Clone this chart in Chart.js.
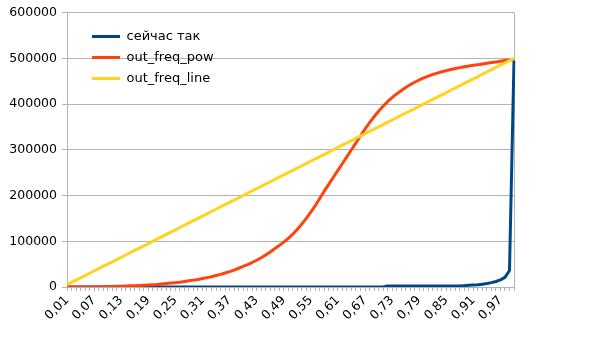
<!DOCTYPE html>
<html>
<head>
<meta charset="utf-8">
<script src="https://cdn.jsdelivr.net/npm/chart.js@4"></script>
<style>
  html, body { margin: 0; padding: 0; background: #ffffff; }
  .chart-box { width: 604px; height: 340px; }
</style>
</head>
<body>
<div class="chart-box">
  <canvas id="freq-chart" width="604" height="340"></canvas>
</div>
<script>
// Data
const categories = [
  "0,01", "0,02", "0,03", "0,04", "0,05", "0,06", "0,07", "0,08", "0,09", "0,10",
  "0,11", "0,12", "0,13", "0,14", "0,15", "0,16", "0,17", "0,18", "0,19", "0,20",
  "0,21", "0,22", "0,23", "0,24", "0,25", "0,26", "0,27", "0,28", "0,29", "0,30",
  "0,31", "0,32", "0,33", "0,34", "0,35", "0,36", "0,37", "0,38", "0,39", "0,40",
  "0,41", "0,42", "0,43", "0,44", "0,45", "0,46", "0,47", "0,48", "0,49", "0,50",
  "0,51", "0,52", "0,53", "0,54", "0,55", "0,56", "0,57", "0,58", "0,59", "0,60",
  "0,61", "0,62", "0,63", "0,64", "0,65", "0,66", "0,67", "0,68", "0,69", "0,70",
  "0,71", "0,72", "0,73", "0,74", "0,75", "0,76", "0,77", "0,78", "0,79", "0,80",
  "0,81", "0,82", "0,83", "0,84", "0,85", "0,86", "0,87", "0,88", "0,89", "0,90",
  "0,91", "0,92", "0,93", "0,94", "0,95", "0,96", "0,97", "0,98", "0,99", "1,00",
];

const xTickLabels = [
  "0,01", "0,07", "0,13", "0,19", "0,25", "0,31", "0,37", "0,43",
  "0,49", "0,55", "0,61", "0,67", "0,73", "0,79", "0,85", "0,91", "0,97",
];

const yTickValues = [0, 100000, 200000, 300000, 400000, 500000, 600000];

const nowValues = [
  0, 0, 0, 0, 0, 0, 0, 0, 0, 0,
  0, 0, 0, 0, 0, 0, 0, 0, 0, 0,
  0, 0, 0, 0, 0, 0, 0, 0, 0, 0,
  0, 0, 0, 0, 0, 0, 0, 0, 0, 0,
  0, 0, 0, 0, 0, 0, 0, 0, 0, 0,
  0, 0, 0, 0, 0, 0, 0, 0, 0, 0,
  0, 0, 0, 0, 0, 0, 0, 0, 0, 0,
  0, 2000, 2000, 2000, 2000, 2000, 2000, 2000, 2000, 2000,
  2000, 2000, 2000, 2000, 2000, 2000, 2000, 2000, 3000, 4000,
  4500, 5000, 6000, 7500, 9500, 12000, 15500, 21000, 36000, 495000,
];

const powValues = [
  0, 0, 0, 0, 0, 0, 0, 500, 500, 1000,
  1000, 1500, 1500, 2000, 2500, 3000, 3500, 4000, 4500, 5000,
  5500, 6500, 7500, 8500, 9500, 10500, 12000, 13500, 15000, 16500,
  18500, 20500, 22500, 25000, 27500, 30500, 33500, 37000, 41000, 45000,
  49000, 53500, 58500, 64000, 70000, 76500, 83500, 90500, 98000, 106000,
  115500, 126000, 137500, 150000, 163500, 178000, 194000, 210000, 225000, 240000,
  255000, 270000, 285000, 300000, 315000, 330000, 345000, 359000, 372000, 384000,
  395000, 405000, 414000, 422000, 429000, 436000, 442000, 447500, 452500, 457000,
  461000, 464500, 467500, 470500, 473000, 475500, 477500, 479500, 481500, 483000,
  484500, 486000, 487500, 489000, 490500, 492000, 493500, 495000, 496000, 497500,
];

const lineValues = [
  5000, 10000, 15000, 20000, 25000, 30000, 35000, 40000, 45000, 50000,
  55000, 60000, 65000, 70000, 75000, 80000, 85000, 90000, 95000, 100000,
  105000, 110000, 115000, 120000, 125000, 130000, 135000, 140000, 145000, 150000,
  155000, 160000, 165000, 170000, 175000, 180000, 185000, 190000, 195000, 200000,
  205000, 210000, 215000, 220000, 225000, 230000, 235000, 240000, 245000, 250000,
  255000, 260000, 265000, 270000, 275000, 280000, 285000, 290000, 295000, 300000,
  305000, 310000, 315000, 320000, 325000, 330000, 335000, 340000, 345000, 350000,
  355000, 360000, 365000, 370000, 375000, 380000, 385000, 390000, 395000, 400000,
  405000, 410000, 415000, 420000, 425000, 430000, 435000, 440000, 445000, 450000,
  455000, 460000, 465000, 470000, 475000, 480000, 485000, 490000, 495000, 500000,
];
// End Data

const gridColor = "#b3b3b3";
const fontFamily = "'DejaVu Sans', sans-serif";

// Khung bên phải vùng vẽ
const plotFrame = {
  id: "plotFrame",
  beforeDatasetsDraw: (chart) => {
    const { ctx, chartArea } = chart;
    ctx.save();
    ctx.strokeStyle = gridColor;
    ctx.lineWidth = 1;
    ctx.beginPath();
    ctx.moveTo(Math.round(chartArea.right) + 0.5, chartArea.top);
    ctx.lineTo(Math.round(chartArea.right) + 0.5, chartArea.bottom + 4);
    ctx.stroke();
    ctx.restore();
  },
};

// Dời chú thích vào trong vùng vẽ
const legendShift = {
  id: "legendShift",
  afterLayout: (chart) => {
    chart.legend.left += 17;
    chart.legend.right += 17;
    chart.legend.top += 22;
    chart.legend.bottom += 22;
  },
};

const chartElement = document.querySelector("#freq-chart");
if (chartElement) {
  new Chart(chartElement, {
    type: "line",
    data: {
      labels: categories,
      datasets: [
        {
          label: "сейчас так",
          data: nowValues,
          borderColor: "#004586",
          backgroundColor: "#004586",
          borderWidth: 3,
          order: 2,
        },
        {
          label: "out_freq_pow",
          data: powValues,
          borderColor: "#ff420e",
          backgroundColor: "#ff420e",
          borderWidth: 3,
          order: 1,
        },
        {
          label: "out_freq_line",
          data: lineValues,
          borderColor: "#ffd320",
          backgroundColor: "#ffd320",
          borderWidth: 3,
          order: 0,
        },
      ],
    },
    options: {
      responsive: false,
      animation: false,
      layout: {
        padding: { top: 11, right: 90, bottom: 0, left: 0 },
      },
      elements: {
        point: { radius: 0, hoverRadius: 0 },
        line: { tension: 0, borderJoinStyle: "round" },
      },
      plugins: {
        tooltip: { enabled: false },
        legend: {
          position: "chartArea",
          align: "start",
          labels: {
            color: "#000000",
            font: { family: fontFamily, size: 13 },
            boxWidth: 28,
            boxHeight: 3,
            padding: 8,
            sort: (a, b) => a.datasetIndex - b.datasetIndex,
            generateLabels: (chart) =>
              Chart.defaults.plugins.legend.labels.generateLabels(chart).map((item) => ({
                ...item,
                fillStyle: item.strokeStyle,
                lineWidth: 0,
              })),
          },
        },
      },
      scales: {
        x: {
          offset: false,
          afterFit: (scale) => {
            scale.height = 53;
          },
          grid: {
            display: true,
            drawOnChartArea: false,
            color: gridColor,
            tickLength: 4,
          },
          border: { color: gridColor },
          ticks: {
            autoSkip: false,
            minRotation: 45,
            maxRotation: 45,
            padding: 2,
            color: "#000000",
            font: { family: fontFamily, size: 12.5 },
            callback: function (value, index) {
              const label = categories[index];
              return xTickLabels.includes(label) ? label : "";
            },
          },
        },
        y: {
          min: 0,
          max: 600000,
          afterFit: (scale) => {
            scale.width = 67;
          },
          afterBuildTicks: (scale) => {
            scale.ticks = yTickValues.map((value) => ({ value }));
          },
          grid: {
            color: gridColor,
            tickLength: 5,
          },
          border: { color: gridColor },
          ticks: {
            padding: 5,
            color: "#000000",
            font: { family: fontFamily, size: 12.5 },
            callback: (value) => String(value),
          },
        },
      },
    },
    plugins: [plotFrame, legendShift],
  });
}
// End Chart
</script>
</body>
</html>
